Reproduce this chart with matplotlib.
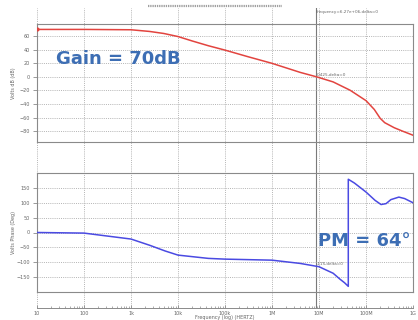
import matplotlib
matplotlib.use("Agg")
import matplotlib.pyplot as plt
from matplotlib.lines import Line2D
from matplotlib.ticker import FixedLocator, FixedFormatter, LogLocator, NullFormatter

# gain curve (Hz, dB)
gain_freq = [10, 100, 1e3, 2.5e3, 5e3, 1e4, 2e4, 4.4e4, 1e5, 3e5, 1e6, 4e6, 9e6,
             2e7, 4.6e7, 1e8, 1.5e8, 2e8, 2.5e8, 4e8, 6e8, 1e9]
gain_db = [70, 70, 69.5, 67, 64, 59.5, 53, 46, 39.5, 30, 20, 6.6, 0,
           -7.4, -19.7, -35, -48, -61, -67.5, -75, -80, -86]

# phase curve (Hz, deg)
phase_freq = [10, 100, 1e3, 2.5e3, 5.3e3, 1e4, 4.4e4, 1e5, 1e6, 4e6, 1e7, 2e7, 2.8e7,
              3.5e7, 4.2e7, 4.2e7, 5.7e7, 1e8, 1.56e8, 2.09e8, 2.67e8, 3.38e8, 5e8,
              6.65e8, 1e9]
phase_deg = [0, -2, -22, -43, -62, -76, -87, -89.5, -93, -104, -115, -137, -157,
             -169, -181, 179, 166, 136, 108, 94, 97, 110.5, 119, 114, 100]

freq_ticks = [10, 100, 1e3, 1e4, 1e5, 1e6, 1e7, 1e8, 1e9]
freq_labels = ["10", "100", "1k", "10k", "100k", "1M", "10M", "100M", "1G"]
gain_ticks = [-80, -60, -40, -20, 0, 20, 40, 60]
phase_ticks = [-150, -100, -50, 0, 50, 100, 150]

cursor_freq = 8.5e6

W, H = 418, 320
GRID = '#b4b4b4'
FRAME = '#8a8a8a'
TXT = '#666666'
BLUE_TXT = '#3d6eb4'
DOTS = (0, (1, 1.2))


def px(x0, y_top, w, h):
    # pixel box -> figure fraction
    return [x0 / W, 1 - (y_top + h) / H, w / W, h / H]


fig = plt.figure(figsize=(W / 100, H / 100), dpi=100, facecolor='white')

# background axis: decade grid lines + frequency axis
ax_bg = fig.add_axes(px(37, 8, 376, 300))
ax_bg.set_facecolor('none')
ax_bg.set_xscale('log')
ax_bg.set_xlim(10, 1e9)
ax_bg.set_ylim(0, 1)
ax_bg.set_yticks([])
for s in ['top', 'left', 'right']:
    ax_bg.spines[s].set_visible(False)
ax_bg.spines['bottom'].set_color(FRAME)
ax_bg.spines['bottom'].set_linewidth(0.7)
ax_bg.xaxis.set_major_locator(FixedLocator(freq_ticks))
ax_bg.xaxis.set_major_formatter(FixedFormatter(freq_labels))
ax_bg.xaxis.set_minor_locator(LogLocator(base=10, subs=range(2, 10), numticks=20))
ax_bg.xaxis.set_minor_formatter(NullFormatter())
ax_bg.tick_params(axis='x', which='major', direction='in', length=2.5, width=0.6,
                  color=FRAME, labelsize=3.5, labelcolor=TXT, pad=2)
ax_bg.tick_params(axis='x', which='minor', direction='in', length=1.5, width=0.5, color=FRAME)
ax_bg.grid(axis='x', which='major', color=GRID, ls=DOTS, lw=0.7)
ax_bg.axvline(cursor_freq, color='#7a7a7a', lw=0.8)
ax_bg.text(cursor_freq, 0.995, "Frequency=6.27e+06,delta=0", fontsize=3, color=TXT,
           ha='left', va='top')

fig.text(225 / W, 1 - 317.5 / H, "Frequency (log) (HERTZ)", fontsize=3.5, color=TXT,
         ha='center', va='center')

# grey bar at top
fig.add_artist(Line2D([148 / W, 282 / W], [1 - 5.5 / H, 1 - 5.5 / H], transform=fig.transFigure,
                      color='#a0a0a0', lw=1.6, ls=(0, (0.6, 0.4))))


def style_panel(ax, ticks, ylabel):
    ax.set_facecolor('none')
    ax.set_xscale('log')
    ax.set_xlim(10, 1e9)
    ax.xaxis.set_major_locator(FixedLocator([]))
    ax.xaxis.set_minor_locator(FixedLocator([]))
    ax.set_yticks(ticks)
    ax.tick_params(axis='y', direction='out', length=3, width=0.6, color=FRAME,
                   labelsize=3.5, labelcolor=TXT, pad=2)
    ax.grid(axis='y', color=GRID, ls=DOTS, lw=0.7)
    for s in ax.spines.values():
        s.set_color(FRAME)
        s.set_linewidth(0.8)
    ax.set_ylabel(ylabel, fontsize=3.5, color=TXT)
    ax.yaxis.set_label_coords(-21 / 376, 0.5)


# gain panel
ax1 = fig.add_axes(px(37, 24, 376, 118))
style_panel(ax1, gain_ticks, "Volts dB (dB)")
ax1.set_ylim(-96, 78)
ax1.plot(gain_freq, gain_db, color='#e2443f', lw=1.1, zorder=3)
ax1.plot(gain_freq[0], gain_db[0], 'o', color='#e2443f', ms=2, zorder=4)
ax1.text(cursor_freq * 1.05, 0.5, "0.425,delta=0", fontsize=3, color=TXT, ha='left', va='bottom')
ax1.text(56 / W, 1 - 58.5 / H, "Gain = 70dB", transform=fig.transFigure, fontsize=13,
         fontweight='bold', color=BLUE_TXT, ha='left', va='center')

# phase panel
ax2 = fig.add_axes(px(37, 173, 376, 119))
style_panel(ax2, phase_ticks, "Volts Phase (Deg)")
ax2.set_ylim(-200, 200)
ax2.plot(phase_freq, phase_deg, color='#4a4ae2', lw=1.1, zorder=3)
ax2.text(cursor_freq * 1.05, -112, "-115,delta=0", fontsize=3, color=TXT, ha='left', va='bottom')
ax2.text(318 / W, 1 - 241 / H, "PM = 64°", transform=fig.transFigure, fontsize=13,
         fontweight='bold', color=BLUE_TXT, ha='left', va='center')

fig.savefig("out.png", dpi=100, facecolor='white')
